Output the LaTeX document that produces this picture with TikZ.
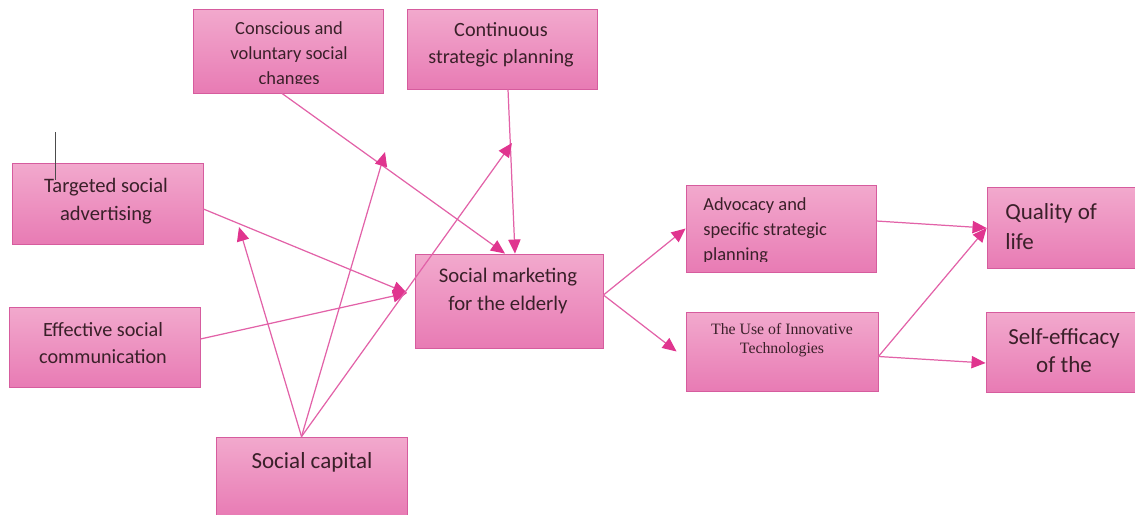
\documentclass[tikz,border=0pt]{standalone}
\usepackage{fontspec}
\setmainfont{Carlito}
\newfontfamily\romana{Liberation Serif}
\usetikzlibrary{arrows.meta}
\definecolor{rosaA}{HTML}{F2A9CD}
\definecolor{rosaB}{HTML}{E87BB4}
\definecolor{borde}{HTML}{D65C9E}
\definecolor{flecha}{HTML}{E262A8}
\definecolor{punta}{HTML}{E0358F}
\definecolor{letra}{HTML}{3A2029}
\begin{document}
\begin{tikzpicture}[x=0.02cm,y=-0.02cm,inner sep=0mm]
\tikzstyle{caja}=[rectangle,draw=borde,line width=0.5pt,top color=rosaA,bottom color=rosaB,minimum width=3.8cm,minimum height=1.6cm]
\tikzstyle{texto}=[text=letra,align=center,font=\fontsize{11.5}{15.6}\selectfont]
\tikzstyle{grande}=[text=letra,align=center,font=\fontsize{13.1}{16.6}\selectfont]
\tikzstyle{flechas}=[draw=flecha,line width=0.7pt,-{Triangle[length=8pt,width=7pt,fill=punta,color=punta]}]
\useasboundingbox (0,0) rectangle (1135,514);
%% cajas
\node at (288,51) (conscious)[caja,minimum height=1.68cm] {};
\node at (502,49) (continuous)[caja] {};
\node at (107.5,203.5) (targeted)[caja,minimum width=3.82cm,minimum height=1.62cm] {};
\node at (104.5,347) (effective)[caja,minimum width=3.82cm] {};
\node at (509,301) (marketing)[caja,minimum width=3.76cm,minimum height=1.88cm] {};
\node at (311.5,477) (capital)[caja,minimum width=3.82cm] {};
\node at (781,228.5) (advocacy)[caja,minimum height=1.74cm] {};
\node at (782,351.5) (innovative)[caja,minimum width=3.84cm,minimum height=1.58cm] {};
\node at (1082,228) (quality)[caja,minimum height=1.62cm] {};
\node at (1081,352) (selfeff)[caja] {};
%% textos
\begin{scope}
\clip (conscious.north west) rectangle ([yshift=0.2cm]conscious.south east);
\node at (289,55) (t1)[texto,font=\fontsize{10.5}{14.2}\selectfont] {Conscious and\\voluntary social\\changes};
\end{scope}
\node at (501,45) (t2)[texto] {Continuous\\strategic planning};
\node at (106,201) (t3)[texto,font=\fontsize{11.7}{15.9}\selectfont] {Targeted social\\advertising};
\node at (103,343) (t4)[texto] {Effective social\\communication};
\node at (508,291) (t5)[texto,font=\fontsize{11.8}{15.9}\selectfont] {Social marketing\\for the elderly};
\node at (312,462) (t6)[grande] {Social capital};
\begin{scope}
\clip (advocacy.north west) rectangle ([yshift=0.22cm]advocacy.south east);
\node at (703,231) (t7)[texto,anchor=west,align=left,font=\fontsize{10.5}{14.2}\selectfont] {Advocacy and\\specific strategic\\planning};
\end{scope}
\node at (782,340) (t8)[texto,font=\romana\fontsize{9}{10.8}\selectfont] {The Use of Innovative\\Technologies};
\node at (1005,227) (t9)[grande,anchor=west,align=left,font=\fontsize{13.1}{17}\selectfont] {Quality of\\life};
\node at (1064,351) (t10)[grande,font=\fontsize{13.1}{16}\selectfont] {Self-efficacy\\of the};
%% puntas sueltas
\coordinate (f1) at (239,227);
\coordinate (f2) at (385,152);
\coordinate (f3) at (512,143);
\coordinate (m1) at (407,293);
\coordinate (marca1) at (55,132);
\coordinate (marca2) at (55,180);
\draw [gray!60!black,line width=0.4pt] (marca1) -- (marca2);
%% flechas
\draw [flechas] ([xshift=-0.12cm]conscious.south) to ([xshift=-0.08cm]marketing.north);
\draw [flechas] ([xshift=0.12cm]continuous.south) to ([xshift=0.12cm]marketing.north);
\draw [flechas] ([yshift=-0.11cm]targeted.east) to (m1);
\draw [flechas] ([yshift=0.16cm]effective.east) to (m1);
\draw [flechas] ([xshift=-0.2cm]capital.north) to (f1);
\draw [flechas] ([xshift=-0.2cm]capital.north) to (f2);
\draw [flechas] ([xshift=-0.2cm]capital.north) to (f3);
\draw [flechas] ([yshift=0.12cm]marketing.east) to (advocacy.west);
\draw [flechas] ([yshift=0.12cm]marketing.east) to ([xshift=-0.18cm]innovative.west);
\draw [flechas] ([yshift=0.15cm]advocacy.east) to (quality.west);
\draw [flechas] ([yshift=-0.1cm]innovative.east) to (quality.west);
\draw [flechas] ([yshift=-0.1cm]innovative.east) to ([yshift=-0.22cm]selfeff.west);
\end{tikzpicture}
\end{document}
